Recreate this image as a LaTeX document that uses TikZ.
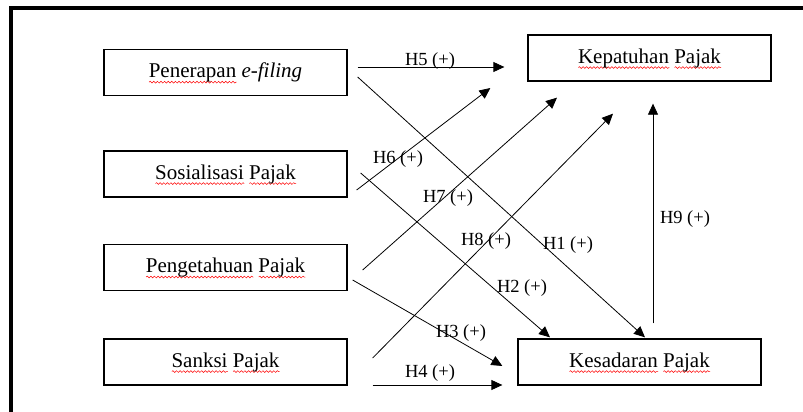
\documentclass[tikz,border=0pt]{standalone}
\usepackage{fontspec}
\setmainfont{Liberation Serif}
\usetikzlibrary{arrows.meta,calc,decorations.pathmorphing}
\newsavebox\rwbox
\newlength\rwlen
\newcommand\redwave[1]{\leavevmode\sbox\rwbox{#1}\setlength\rwlen{\wd\rwbox}%
\rlap{\smash{\tikz[baseline=0pt,x=1pt,y=1pt]\draw[red,line width=0.5pt,decorate,decoration={snake,amplitude=0.9pt,segment length=3.6pt}] (0pt,-4.5pt) -- (\rwlen,-4.5pt);}}\usebox\rwbox}
\begin{document}
\begin{tikzpicture}[x=1pt,y=-1pt,
 box/.style={draw,line width=1.3pt,minimum width=243pt,minimum height=46pt,inner sep=0pt,font=\fontsize{21}{25}\selectfont},
 arr/.style={line width=0.8pt,-{Triangle[length=11pt,width=10pt]}},
 lbl/.style={inner sep=0pt,font=\fontsize{18.5}{22}\selectfont}]
\useasboundingbox (0,0) rectangle (803,412);
\draw[line width=3.3pt] (11,430) -- (11,8) -- (820,8);

\node[box] (pen) at (225.5,72.5) {\redwave{Penerapan} \textit{e-filing}};
\node[box] (sos) at (225.5,174) {\redwave{Sosialisasi} \redwave{Pajak}};
\node[box] (peng) at (225.5,267.5) {\redwave{Pengetahuan} \redwave{Pajak}};
\node[box] (san) at (225.5,362) {\redwave{Sanksi} \redwave{Pajak}};
\node[box] (kep) at (649.5,58) {\redwave{Kepatuhan} \redwave{Pajak}};
\node[box] (kes) at (639.5,362) {\redwave{Kesadaran} \redwave{Pajak}};

\draw[arr] ($(pen.east)+(10,-5.5)$) -- ($(kep.west)+(-23,9)$);
\draw[arr] ($(pen.east)+(10,4.5)$) -- ($(kes.north)+(5.5,-1)$);
\draw[arr] ($(sos.east)+(9,16)$) -- ($(kep.west)+(-37,30)$);
\draw[arr] ($(sos.east)+(13,-1)$) -- ($(kes.north)+(-89.5,-1)$);
\draw[arr] ($(peng.east)+(15,2.5)$) -- ($(kep.south)+(-92.5,16)$);
\draw[arr] ($(peng.east)+(5,12.5)$) -- ($(kes.west)+(-15,4)$);
\draw[arr] ($(san.east)+(25,-4)$) -- ($(kep.south)+(-36.5,32)$);
\draw[arr] ($(san.east)+(25,23)$) -- ($(kes.west)+(-15,23)$);
\draw[arr] ($(kes.north)+(13.5,-15)$) -- ($(kep.south)+(3.5,22)$);

\node[lbl] (l5) at (430,61) {H5 (+)};
\node[lbl] (l6) at (398,159) {H6 (+)};
\node[lbl] (l7) at (448,198) {H7 (+)};
\node[lbl] (l8) at (486,241) {H8 (+)};
\node[lbl] (l1) at (568,245) {H1 (+)};
\node[lbl] (l2) at (522,288) {H2 (+)};
\node[lbl] (l3) at (461,333) {H3 (+)};
\node[lbl] (l4) at (430,373) {H4 (+)};
\node[lbl] (l9) at (685,219) {H9 (+)};
\end{tikzpicture}
\end{document}
